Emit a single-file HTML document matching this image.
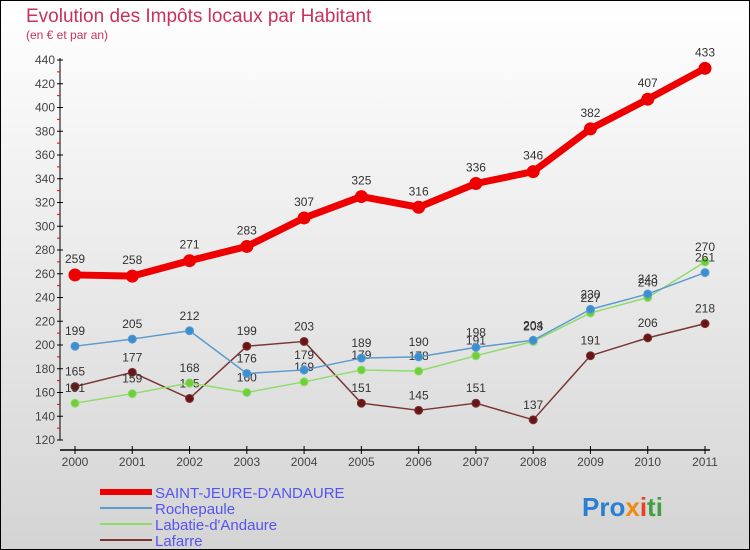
<!DOCTYPE html>
<html><head><meta charset="utf-8"><style>
body{margin:0;}
#c{width:750px;height:550px;position:relative;overflow:hidden;}
</style></head><body>
<div id="c">
<svg id="s" width="750" height="550" xmlns="http://www.w3.org/2000/svg" style="font-family:'Liberation Sans',sans-serif">
<defs><linearGradient id="bg" x1="0" y1="0" x2="0" y2="1"><stop offset="0" stop-color="#ffffff"/><stop offset="1" stop-color="#d4d4d4"/></linearGradient></defs>
<rect x="0.5" y="0.5" width="749" height="549" fill="url(#bg)" stroke="#000"/>
<text x="26" y="22" font-size="19" fill="#c8325a">Evolution des Impôts locaux par Habitant</text>
<text x="26" y="39" font-size="12" fill="#c8325a">(en € et par an)</text>
<g id="axes"></g><g id="series"></g>
<g>
<line x1="100" y1="492" x2="152" y2="492" stroke="#ee0000" stroke-width="6"/>
<text x="155" y="498" font-size="15" fill="#5555ee">SAINT-JEURE-D'ANDAURE</text>
<line x1="100" y1="508" x2="152" y2="508" stroke="#5b9bd0" stroke-width="2"/>
<text x="155" y="514" font-size="15" fill="#5555ee">Rochepaule</text>
<line x1="100" y1="524" x2="152" y2="524" stroke="#8fdc6a" stroke-width="2"/>
<text x="155" y="530" font-size="15" fill="#5555ee">Labatie-d'Andaure</text>
<line x1="100" y1="540" x2="152" y2="540" stroke="#7a3535" stroke-width="2"/>
<text x="155" y="546" font-size="15" fill="#5555ee">Lafarre</text>
</g>
<text x="582" y="516" font-size="26" font-weight="bold"><tspan fill="#2a7fd0">Pro</tspan><tspan fill="#f08a10">x</tspan><tspan fill="#e84020">i</tspan><tspan fill="#40a040">ti</tspan></text>
</svg></div>
<script>
const years=["2000","2001","2002","2003","2004","2005","2006","2007","2008","2009","2010","2011"];
const yTicks=[120,140,160,180,200,220,240,260,280,300,320,340,360,380,400,420,440];
const saint=[259,258,271,283,307,325,316,336,346,382,407,433];
const rochepaule=[199,205,212,176,179,189,190,198,204,230,243,261];
const labatie=[151,159,168,160,169,179,178,191,203,227,240,270];
const lafarre=[165,177,155,199,203,151,145,151,137,191,206,218];
const NS="http://www.w3.org/2000/svg";
const xS=i=>75+i*(630/11);
const yS=v=>440-(v-120)*(380/320);
function mk(t,a,p){const e=document.createElementNS(NS,t);for(const k in a)e.setAttribute(k,a[k]);p.appendChild(e);return e;}
const ax=document.getElementById('axes');
mk('line',{x1:60,y1:58,x2:60,y2:440,stroke:'#000'},ax);
mk('line',{x1:60,y1:450,x2:710,y2:450,stroke:'#000','stroke-width':1.5},ax);
yTicks.forEach((v,i)=>{const y=yS(v);
mk('line',{x1:57,y1:y,x2:63,y2:y,stroke:'#000'},ax);
if(i<yTicks.length-1){mk('line',{x1:57,y1:y-11.875,x2:60,y2:y-11.875,stroke:'#e00'},ax);}
const t=mk('text',{x:55,y:y+4,'font-size':12,fill:'#444','text-anchor':'end'},ax);t.textContent=v;

});
years.forEach((yr,i)=>{const x=xS(i);
mk('line',{x1:x,y1:446,x2:x,y2:454,stroke:'#000'},ax);
const t=mk('text',{x:x,y:466,'font-size':12,fill:'#444','text-anchor':'middle'},ax);t.textContent=yr;

});
const sg=document.getElementById('series');
function draw(vals,color,w,r,name,dot){
const g=mk('g',{},sg);


mk('polyline',{points:vals.map((v,i)=>xS(i)+','+yS(v)).join(' '),fill:'none',stroke:color,'stroke-width':w,'stroke-linejoin':'round'},g);
vals.forEach((v,i)=>{const c=mk('circle',{cx:xS(i),cy:yS(v),r:r,fill:dot,stroke:color,'stroke-width':1},g);


const t=mk('text',{x:xS(i),y:yS(v)-9-r/2,'font-size':12,fill:'#333','text-anchor':'middle'},g);t.textContent=v;});}
draw(lafarre,'#7a3535',1.5,4,'series-lafarre','#6a1515');
draw(labatie,'#8fdc6a',1.5,4,'series-labatie','#6fcf3a');
draw(rochepaule,'#5b9bd0',1.5,4,'series-rochepaule','#3a8fd0');
draw(saint,'#ee0000',7,6,'series-saint-jeure','#ee0000');
</script>
</body></html>
